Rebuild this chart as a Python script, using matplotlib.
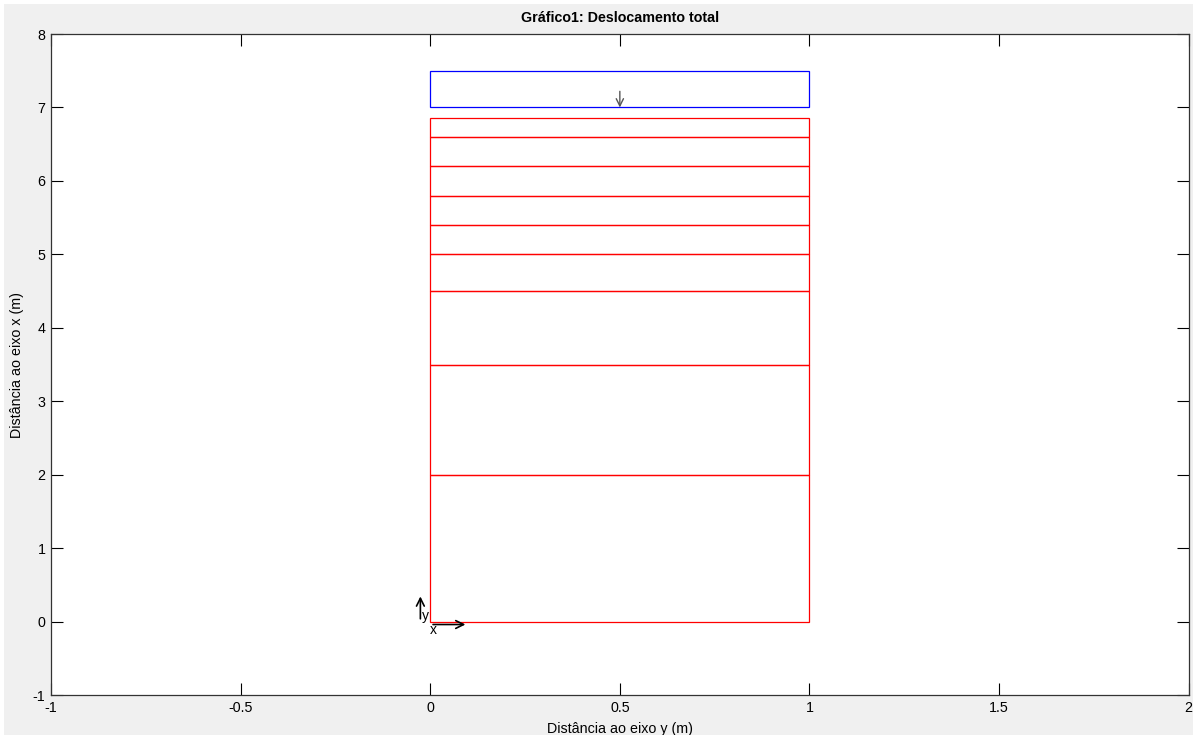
import numpy as np
import matplotlib.pyplot as plt
from matplotlib.patches import Rectangle

# Camadas (cotas das interfaces, m)
camadas = [0.0, 2.0, 3.5, 4.5, 5.0, 5.4, 5.8, 6.2, 6.6, 6.85]
largura = 1.0
# Sapata / carga
carga_base = 7.0
carga_topo = 7.5
carga_x = 0.5
carga_seta = 0.22

plt.rcParams['font.family'] = ['Liberation Sans', 'DejaVu Sans']
plt.rcParams['axes.unicode_minus'] = False

fig = plt.figure(figsize=(11.95, 7.35), dpi=100, facecolor='white')
fig.patches.append(Rectangle((4/1195, 0), 1 - 6/1195, 1 - 4/735, transform=fig.transFigure,
                             facecolor='#f0f0f0', edgecolor='none', zorder=-10))
ax = fig.add_axes([0.0427, 0.0544, 0.952, 0.8993])
ax.set_facecolor('white')

# camadas de solo
for i in range(len(camadas) - 1):
    ax.add_patch(Rectangle((0, camadas[i]), largura, camadas[i+1] - camadas[i],
                           fill=False, edgecolor='red', lw=0.9))

# carga
ax.add_patch(Rectangle((0, carga_base), largura, carga_topo - carga_base,
                       fill=False, edgecolor='blue', lw=0.9))
ax.annotate('', xy=(carga_x, carga_base), xytext=(carga_x, carga_base + carga_seta),
            arrowprops=dict(arrowstyle='->', color='#555555', lw=1.0, mutation_scale=13,
                            shrinkA=0, shrinkB=0))

# eixos locais
ax.annotate('', xy=(-0.026, 0.38), xytext=(-0.026, 0.0),
            arrowprops=dict(arrowstyle='->', color='black', lw=1.2, mutation_scale=14))
ax.annotate('', xy=(0.1, -0.04), xytext=(0.0, -0.04),
            arrowprops=dict(arrowstyle='->', color='black', lw=1.2, mutation_scale=14))
ax.text(-0.022, 0.08, 'y', fontsize=10, ha='left', va='center')
ax.text(0.0, -0.11, 'x', fontsize=10, ha='left', va='center')

ax.set_xlim(-1, 2)
ax.set_ylim(-1, 8)
ax.set_xticks(np.arange(-1, 2.01, 0.5))
ax.set_xticklabels(['-1', '-0.5', '0', '0.5', '1', '1.5', '2'])
ax.set_yticks(np.arange(-1, 9, 1))
ax.tick_params(direction='in', length=8.5, width=0.8, top=True, right=True,
               labelsize=10.3)
ax.tick_params(axis='x', pad=4)
ax.tick_params(axis='y', pad=4)
for s in ax.spines.values():
    s.set_linewidth(0.9)
    s.set_color('#333333')

ax.set_title('Gráfico1: Deslocamento total', fontsize=10.3, fontweight='bold', pad=9)
ax.set_xlabel('Distância ao eixo y (m)', fontsize=10.3, labelpad=5)
ax.set_ylabel('Distância ao eixo x (m)', fontsize=10.3, labelpad=6)

fig.savefig('out.png', dpi=100, facecolor=fig.get_facecolor())
